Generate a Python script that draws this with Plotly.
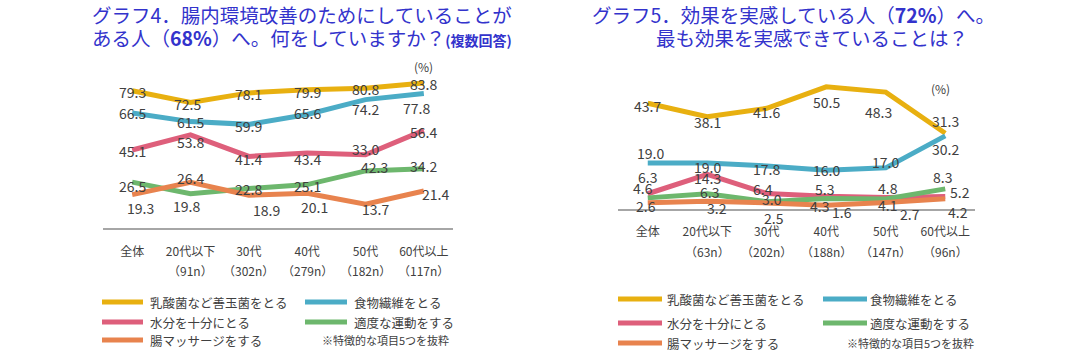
import plotly.graph_objects as go

W, H = 1072, 360
FONT = "Noto Sans CJK JP, Noto Sans, sans-serif"
TXT = "#404040"
TITLE = "#3333CC"

# ---------------- data ----------------
series_names = ["乳酸菌など善玉菌をとる", "食物繊維をとる", "水分を十分にとる", "適度な運動をする", "腸マッサージをする"]
colors = ["#E8B010", "#4BACC6", "#DE5F7B", "#6DB76D", "#E8834E"]

cat1 = ["全体", "20代以下", "30代", "40代", "50代", "60代以上"]
n1 = ["", "（91n）", "（302n）", "（279n）", "（182n）", "（117n）"]
g4_lactic = [79.3, 72.5, 78.1, 79.9, 80.8, 83.8]
g4_fiber = [66.5, 61.5, 59.9, 65.6, 74.2, 77.8]
g4_water = [45.1, 53.8, 41.4, 43.4, 42.3, 56.4]
g4_exercise = [26.5, 19.8, 22.8, 25.1, 33.0, 34.2]
g4_massage = [19.3, 26.4, 18.9, 20.1, 13.7, 21.4]
# data labels as printed in the original graphic
g4_lbl_lactic = ["79.3", "72.5", "78.1", "79.9", "80.8", "83.8"]
g4_lbl_fiber = ["66.5", "61.5", "59.9", "65.6", "74.2", "77.8"]
g4_lbl_water = ["45.1", "53.8", "41.4", "43.4", "33.0", "56.4"]
g4_lbl_exercise = ["26.5", "19.8", "22.8", "25.1", "42.3", "34.2"]
g4_lbl_massage = ["19.3", "26.4", "18.9", "20.1", "13.7", "21.4"]

cat2 = ["全体", "20代以下", "30代", "40代", "50代", "60代以上"]
n2 = ["", "（63n）", "（202n）", "（188n）", "（147n）", "（96n）"]
g5_lactic = [43.7, 38.1, 41.6, 50.5, 48.3, 31.3]
g5_fiber = [19.0, 19.0, 17.8, 16.0, 17.0, 30.2]
g5_water = [6.3, 14.3, 6.4, 5.3, 4.8, 5.2]
g5_exercise = [4.6, 6.3, 3.0, 4.3, 4.1, 8.3]
g5_massage = [2.6, 3.2, 2.5, 1.6, 2.7, 4.2]

g4 = [g4_lactic, g4_fiber, g4_water, g4_exercise, g4_massage]
g4_lbl = [g4_lbl_lactic, g4_lbl_fiber, g4_lbl_water, g4_lbl_exercise, g4_lbl_massage]
g5 = [g5_lactic, g5_fiber, g5_water, g5_exercise, g5_massage]
g5_lbl = [[f"{v:.1f}" for v in s] for s in g5]

# label offsets (dx, dy in px; dy positive = downwards)
g4_off = [
    [(0, 1), (-3, 1), (0, 1), (0, 2), (0, 1), (0, 1)],
    [(0, 0), (0, 0), (0, 2), (0, -2), (0, 9), (-7, 15)],
    [(0, 1), (0, 7), (0, 3), (0, 6), (0, -6), (0, 2)],
    [(0, 4), (-4, 12), (0, 0), (0, 1), (9, -4), (0, -3)],
    [(8, 13), (0, -4), (18, 15), (7, 14), (10, 5), (12, 3)],
]
g5_off = [
    [(0, 3), (0, 5), (0, 4), (0, 15), (-7, 20), (0, -12)],
    [(3, -10), (0, 4), (0, 3), (0, 0), (0, -6), (0, 13)],
    [(0, -17), (0, 4), (-4, -5), (-2, -7), (2, -9), (15, -4)],
    [(-5, -10), (2, -2), (5, -3), (-7, 7), (2, 6), (-3, -12)],
    [(-2, 3), (10, 7), (7, 15), (16, 7), (24, 12), (13, 13)],
]


def xp(px):
    return px / W


def yp(py):
    return 1 - py / H


fig = go.Figure()

# panel geometry (pixels)
P1 = dict(x0=103, x1=453, y0=228, ytop=55, ymax=100)
P2 = dict(x0=618, x1=975, y0=209, ytop=63.8, ymax=60)

for k, (data, xa, ya) in enumerate([(g4, "x", "y"), (g5, "x2", "y2")]):
    for i, s in enumerate(data):
        fig.add_trace(go.Scatter(
            x=list(range(len(s))), y=s, mode="lines",
            line=dict(color=colors[i], width=5),
            name=series_names[i], showlegend=False,
            xaxis=xa, yaxis=ya, hoverinfo="skip"))

annotations = []


def note(x, y, text, size, color=TXT, xanchor="center", xref="paper", yref="paper", **kw):
    annotations.append(dict(x=x, y=y, xref=xref, yref=yref, text=text, showarrow=False,
                            xanchor=xanchor, yanchor="middle",
                            font=dict(family=FONT, size=size, color=color), **kw))


for data, lbls, offs, xr, yr in [(g4, g4_lbl, g4_off, "x", "y"), (g5, g5_lbl, g5_off, "x2", "y2")]:
    for i, s in enumerate(data):
        for j, v in enumerate(s):
            dx, dy = offs[i][j]
            note(j, v, lbls[i][j], 14, xref=xr, yref=yr, xshift=dx, yshift=-dy)

# sample size second tick line
for ns, xr, ypx in [(n1, "x", 270), (n2, "x2", 251)]:
    for j, t in enumerate(ns):
        if t:
            note(j, yp(ypx), t, 12, xref=xr)

# (%) labels
note(xp(423), yp(66), "(%)", 12)
note(xp(940), yp(88), "(%)", 12)

# titles
note(xp(90), yp(15), "グラフ4．腸内環境改善のためにしていることが", 19.5, TITLE, "left")
note(xp(90), yp(38),
     "ある人（<b>68%</b>）へ。何をしていますか？<span style='font-size:14px'><b>(複数回答)</b></span>",
     19.5, TITLE, "left")
note(xp(590), yp(15), "グラフ5．効果を実感している人（<b>72%</b>）へ。", 19.5, TITLE, "left")
note(xp(970), yp(38), "最も効果を実感できていることは？", 19.5, TITLE, "right")

# legends (manual)
shapes = []
legend_specs = [
    dict(c1=(102, 143, 148), c2=(305, 347, 352), rows=(302, 322, 340), note=(320, 340)),
    dict(c1=(618, 662, 665), c2=(823, 867, 868), rows=(299, 323, 343), note=(845, 343)),
]
order = [(0, 0, 0), (1, 1, 0), (2, 0, 1), (3, 1, 1), (4, 0, 2)]
for spec in legend_specs:
    for idx, col, row in order:
        sx0, sx1, tx = spec["c1"] if col == 0 else spec["c2"]
        yy = spec["rows"][row]
        shapes.append(dict(type="line", xref="paper", yref="paper", x0=xp(sx0), x1=xp(sx1),
                           y0=yp(yy), y1=yp(yy), line=dict(color=colors[idx], width=5)))
        note(xp(tx), yp(yy), series_names[idx], 12.5, xanchor="left")
    nx, ny = spec["note"]
    note(xp(nx), yp(ny), "※特徴的な項目5つを抜粋", 11, xanchor="left")

axis_common = dict(showgrid=False, zeroline=False, ticks="", showline=True,
                   linecolor="#A6A6A6", linewidth=2,
                   tickfont=dict(family=FONT, size=12, color=TXT))

fig.update_layout(
    width=W, height=H, margin=dict(l=0, r=0, t=0, b=0),
    paper_bgcolor="white", plot_bgcolor="rgba(0,0,0,0)",
    xaxis=dict(domain=[xp(P1["x0"]), xp(P1["x1"])], range=[-0.5, 5.5],
               tickvals=list(range(6)), ticktext=cat1, anchor="y", ticklabelstandoff=12, **axis_common),
    yaxis=dict(domain=[yp(P1["y0"]), yp(P1["ytop"])], range=[0, P1["ymax"]], visible=False, anchor="x"),
    xaxis2=dict(domain=[xp(P2["x0"]), xp(P2["x1"])], range=[-0.5, 5.5],
                tickvals=list(range(6)), ticktext=cat2, anchor="y2", ticklabelstandoff=11, **axis_common),
    yaxis2=dict(domain=[yp(P2["y0"]), yp(P2["ytop"])], range=[0, P2["ymax"]], visible=False, anchor="x2"),
    annotations=annotations, shapes=shapes, showlegend=False,
)

fig.write_html("out.html", config={"displayModeBar": False},
               post_script="document.body.style.margin='0';")
